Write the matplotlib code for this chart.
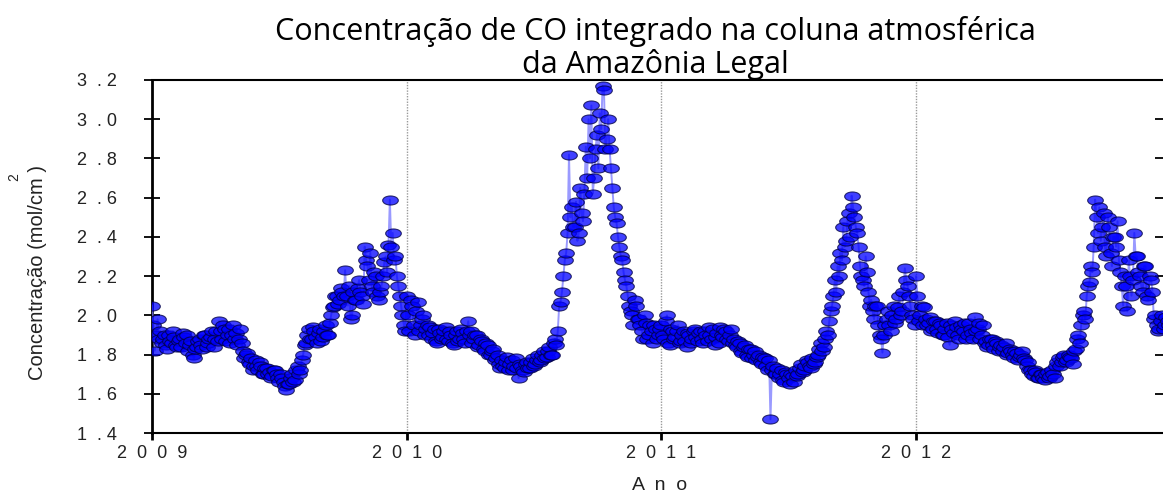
import numpy as np
import matplotlib
matplotlib.use("Agg")
import matplotlib.pyplot as plt
from matplotlib.path import Path
from matplotlib.transforms import Affine2D

# ---- data (CO column concentration) ----
years = [2009, 2010, 2011, 2012]

co_2009 = [2.05, 1.82, 1.98,
           1.92, 1.88, 1.85, 1.90, 1.86, 1.89, 1.84, 1.88, 1.91, 1.86, 1.82, 1.87, 1.78, 1.84,
           1.88, 1.83, 1.90, 1.86, 1.89, 1.84, 1.92,
           1.97, 1.88, 1.93, 1.90, 1.86, 1.95, 1.91, 1.88,
           1.86, 1.78, 1.81, 1.75, 1.72,
           1.77, 1.72, 1.74, 1.70, 1.73, 1.71, 1.69, 1.72, 1.68, 1.70, 1.66, 1.62,
           1.65, 1.70, 1.67, 1.74, 1.72, 1.80,
           1.86, 1.93, 1.88, 1.92, 1.86, 1.93, 1.89, 1.95, 1.90,
           2.00, 2.05, 2.10, 2.08, 2.12,
           2.23, 2.05, 1.98, 2.12, 2.08, 2.18, 2.10,
           2.35, 2.25, 2.32, 2.12, 2.20,
           2.08, 2.15, 2.27, 2.22,
           2.59, 2.42, 2.30,
           2.15, 2.05, 1.95]
co_2009_b = [1.95, 1.90, 1.88,
             1.86, 1.90, 1.83, 1.87, 1.92, 1.85, 1.87, 1.84, 1.89, 1.90, 1.85, 1.80, 1.83, 1.87,
             1.85, 1.90, 1.84, 1.88, 1.92, 1.88, 1.87,
             1.92, 1.95, 1.87, 1.93, 1.90, 1.88, 1.85, 1.93,
             1.82, 1.80, 1.76, 1.78, 1.74,
             1.74, 1.76, 1.70, 1.73, 1.70, 1.68, 1.72, 1.70, 1.66, 1.68, 1.64, 1.65,
             1.68, 1.66, 1.72, 1.70, 1.77, 1.85,
             1.90, 1.88, 1.94, 1.89, 1.91, 1.87, 1.92, 1.90, 1.96,
             2.04, 2.10, 2.06, 2.14, 2.10,
             2.10, 2.15, 2.00, 2.08, 2.14, 2.12, 2.06,
             2.28, 2.18, 2.15, 2.22, 2.10,
             2.12, 2.20, 2.30, 2.36,
             2.35, 2.28, 2.20,
             2.10, 2.00, 1.92]

co_2010 = [2.10, 1.92, 2.05, 1.90,
           2.07, 1.95, 2.00, 1.93,
           1.90, 1.88, 1.93, 1.86, 1.91, 1.89, 1.94, 1.87, 1.90, 1.85, 1.92, 1.88, 1.91, 1.86, 1.97,
           1.92, 1.88, 1.90, 1.85, 1.87, 1.82, 1.85, 1.80, 1.83, 1.78, 1.75,
           1.77, 1.73, 1.79, 1.75, 1.72, 1.78, 1.68,
           1.74, 1.71, 1.76, 1.73, 1.78, 1.75, 1.80, 1.77, 1.82, 1.79, 1.84, 1.80,
           1.88, 1.92, 2.07,
           2.20, 2.32, 2.82, 2.55,
           2.45, 2.38, 2.65, 2.48, 2.86, 3.00, 3.07, 2.70, 2.92,
           3.03, 3.17, 2.85, 3.00,
           2.75, 2.55, 2.47, 2.35, 2.28,
           2.18, 2.10, 2.02, 1.95, 2.05,
           1.98, 1.92, 2.00, 1.88, 1.95, 1.86, 1.93, 1.90]
co_2010_b = [2.00, 2.08, 1.95, 2.02,
             1.92, 1.98, 1.90, 1.95,
             1.94, 1.91, 1.87, 1.93, 1.88, 1.92, 1.88, 1.92, 1.86, 1.90, 1.87, 1.93, 1.88, 1.92, 1.90,
             1.86, 1.90, 1.84, 1.88, 1.83, 1.86, 1.80, 1.82, 1.77, 1.80, 1.73,
             1.74, 1.76, 1.72, 1.77, 1.74, 1.73, 1.75,
             1.72, 1.75, 1.73, 1.76, 1.74, 1.77, 1.76, 1.80, 1.78, 1.82, 1.80, 1.86,
             1.85, 2.05, 2.12,
             2.28, 2.42, 2.50, 2.45,
             2.58, 2.42, 2.52, 2.62, 2.70, 2.80, 2.62, 2.85, 2.75,
             2.95, 3.15, 2.90, 2.85,
             2.65, 2.50, 2.40, 2.30, 2.22,
             2.15, 2.05, 2.00, 2.08, 1.98,
             1.95, 1.88, 1.96, 1.90, 1.92, 1.95, 1.88, 1.93]

co_2011 = [1.95, 1.88, 2.00, 1.85, 1.92, 1.89, 1.95, 1.87, 1.92, 1.84, 1.90, 1.88, 1.93, 1.87,
           1.92, 1.86, 1.90, 1.94, 1.88, 1.85, 1.91, 1.94, 1.89, 1.92, 1.87, 1.93,
           1.88, 1.84, 1.86, 1.81, 1.85, 1.79, 1.83, 1.80, 1.77,
           1.80, 1.75, 1.78, 1.72, 1.47, 1.74, 1.70,
           1.68, 1.72, 1.66, 1.70, 1.65, 1.69, 1.72,
           1.70, 1.75, 1.72, 1.77, 1.74, 1.78, 1.76,
           1.80, 1.86, 1.84, 1.92, 1.97, 2.05,
           2.18, 2.25, 2.32, 2.45, 2.38, 2.52,
           2.61, 2.50,
           2.42, 2.25, 2.18, 2.30, 2.12,
           2.08, 1.98, 2.05, 1.90, 1.81,
           1.95, 2.02, 1.92, 2.05, 1.98, 2.10, 2.02,
           2.24, 2.15, 2.05, 1.98]
co_2011_b = [1.90, 1.97, 1.86, 1.93, 1.88, 1.92, 1.86, 1.90, 1.87, 1.91, 1.86, 1.92, 1.89, 1.91,
             1.88, 1.92, 1.87, 1.90, 1.93, 1.89, 1.86, 1.90, 1.93, 1.88, 1.90, 1.86,
             1.85, 1.87, 1.82, 1.84, 1.80, 1.83, 1.78, 1.82, 1.79,
             1.76, 1.79, 1.74, 1.77, 1.72, 1.70, 1.73,
             1.70, 1.67, 1.71, 1.68, 1.70, 1.66, 1.69,
             1.73, 1.71, 1.74, 1.76, 1.73, 1.75, 1.79,
             1.83, 1.82, 1.88, 1.90, 2.02, 2.10,
             2.12, 2.20, 2.28, 2.35, 2.48, 2.40,
             2.55, 2.45,
             2.35, 2.20, 2.15, 2.22, 2.05,
             2.02, 2.05, 1.95, 1.88, 1.90,
             1.98, 1.95, 2.00, 1.96, 2.04, 2.00, 2.12,
             2.18, 2.10, 2.00, 1.95]

co_2012 = [2.20, 1.97, 2.05,
           2.04, 1.95, 1.99, 1.93, 1.97, 1.91, 1.95,
           1.90, 1.96, 1.85, 1.93, 1.97, 1.90, 1.95, 1.92, 1.88, 1.96, 1.91,
           1.99, 1.93, 1.88, 1.95,
           1.87, 1.85, 1.88, 1.83, 1.86, 1.84, 1.82, 1.86, 1.81,
           1.82, 1.78, 1.81, 1.79, 1.82, 1.77, 1.76,
           1.72, 1.69, 1.71, 1.68, 1.70, 1.67, 1.71, 1.69, 1.70,
           1.74, 1.78, 1.76, 1.80, 1.77, 1.79, 1.75,
           1.83, 1.90, 1.95, 2.02, 2.10,
           2.17, 2.22, 2.59, 2.42,
           2.38, 2.52, 2.30, 2.45, 2.25, 2.40, 2.48,
           2.22, 2.05, 2.15, 2.28, 2.10,
           2.42, 2.30,
           2.20, 2.12, 2.25, 2.08, 2.18, 1.98, 1.95,
           1.93, 2.00, 1.95, 1.97]
co_2012_b = [2.10, 2.00, 1.95,
             1.98, 1.96, 1.92, 1.97, 1.93, 1.96, 1.90,
             1.93, 1.89, 1.95, 1.91, 1.94, 1.88, 1.93, 1.96, 1.90, 1.93, 1.88,
             1.92, 1.96, 1.90, 1.86,
             1.84, 1.88, 1.85, 1.87, 1.82, 1.85, 1.84, 1.80, 1.83,
             1.80, 1.82, 1.77, 1.80, 1.78, 1.74, 1.72,
             1.70, 1.72, 1.68, 1.70, 1.68, 1.70, 1.68, 1.72, 1.68,
             1.76, 1.74, 1.79, 1.76, 1.80, 1.78, 1.82,
             1.88, 1.86, 2.00, 1.98, 2.15,
             2.25, 2.35, 2.50, 2.55,
             2.45, 2.35, 2.50, 2.32, 2.40, 2.35, 2.28,
             2.15, 2.20, 2.02, 2.20, 2.18,
             2.30, 2.22,
             2.15, 2.25, 2.10, 2.20, 2.12, 2.00, 1.92,
             1.97, 1.93, 1.99, 1.95]

yticks = [1.4, 1.6, 1.8, 2.0, 2.2, 2.4, 2.6, 2.8, 3.0, 3.2]
ytick_labels = ["1  . 4", "1  . 6", "1  . 8", "2  . 0", "2  . 2",
                "2  . 4", "2  . 6", "2  . 8", "3  . 0", "3  . 2"]
xticks = [2009, 2010, 2011, 2012]
xtick_labels = ["2  0  0  9", "2  0  1  0", "2  0  1  1", "2  0  1  2"]

main_series = [co_2009, co_2010, co_2011, co_2012]
extra_series = [co_2009_b, co_2010_b, co_2011_b, co_2012_b]
xs, ys = [], []
for yr, a, b in zip(years, main_series, extra_series):
    n = len(a)
    xs.extend(yr + np.arange(n) / n)
    ys.extend(a)
    m = len(b)
    xs.extend(yr + (np.arange(m) + 0.5) / m)
    ys.extend(b)
xs = np.array(xs)
ys = np.array(ys)
order = np.argsort(xs)
x_all = xs[order]
y_all = ys[order]

# ---- figure ----
W, H = 1163, 493
fig = plt.figure(figsize=(W / 100, H / 100), dpi=100)
ax = fig.add_axes([152 / W, 1 - 433 / H, (1163 - 152) / W, (433 - 80) / H])

ellipse = Path.unit_circle().transformed(Affine2D().scale(1.0, 0.58))

for xv in [2010, 2011, 2012]:
    ax.axvline(xv, color="#9a9a9a", linestyle=(0, (1, 1)), linewidth=1.0, zorder=1)

ax.plot(x_all, y_all, color="#7878ff", linewidth=1.4, alpha=0.75,
        marker=ellipse, markersize=11.3, markerfacecolor="#0000ff",
        markeredgecolor="#000040", markeredgewidth=0.8, zorder=3)

ax.set_xlim(2009, 2009 + (1163 - 152) / 254.67)
ax.set_ylim(1.4, 3.2)

ax.set_yticks(yticks)
ax.set_yticklabels(ytick_labels, fontsize=13, family="Liberation Sans", color="#222222")
ax.set_xticks(xticks)
ax.set_xticklabels(xtick_labels, fontsize=13, family="Liberation Sans", color="#222222")

ax.yaxis.set_ticks_position("both")
ax.tick_params(axis="y", which="both", left=True, direction="out",
               length=10.8, width=1.3, pad=19.5, labelleft=True, labelright=False)
ax.tick_params(axis="y", which="both", right=True, direction="inout", length=11, width=1.3)
ax.tick_params(axis="x", direction="out", length=5, width=2, pad=4, top=False)

for side in ["top", "bottom"]:
    ax.spines[side].set_linewidth(1.5)
ax.spines["left"].set_linewidth(2.0)
ax.spines["right"].set_visible(False)

fig.text(38 / W, 1 - 272 / H, "Concentração (mol/cm )", rotation=90,
         ha="center", va="center", fontsize=14.5, family="Liberation Sans", color="#222222")
fig.text(14 / W, 1 - 177 / H, "2", rotation=90, ha="center", va="center",
         fontsize=10, family="Liberation Sans", color="#222222")
fig.text(660 / W, 1 - 485 / H, "A  n  o", ha="center", va="center",
         fontsize=14, family="Liberation Sans", color="#222222")

fig.text(655 / W, 1 - 48 / H,
         "Concentração de CO integrado na coluna atmosférica\nda Amazônia Legal",
         ha="center", va="center", fontsize=22, family="Open Sans", linespacing=1.08)

fig.savefig("out.png", dpi=100)
